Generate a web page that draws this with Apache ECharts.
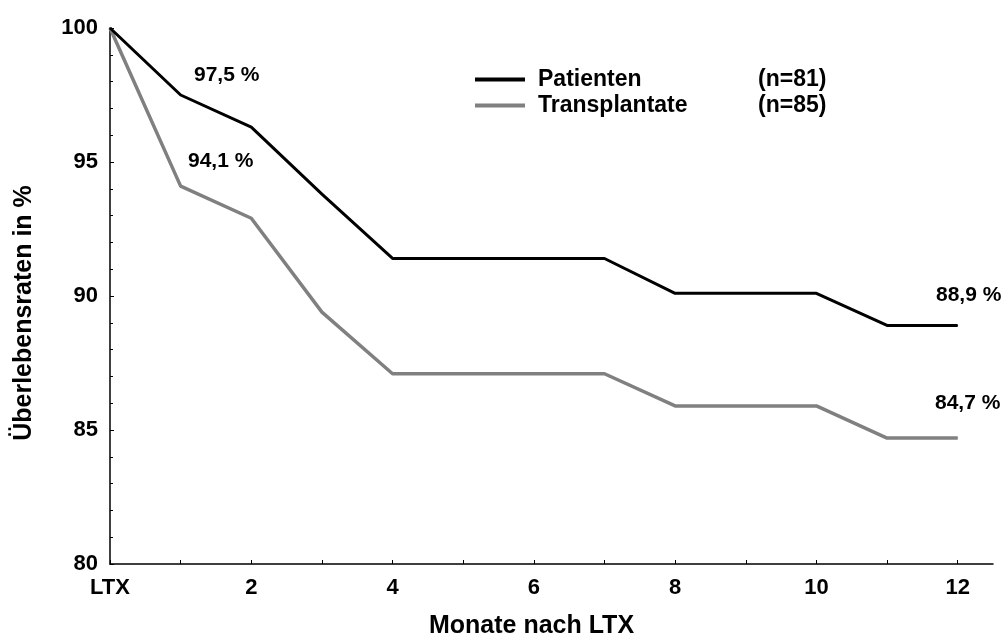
<!DOCTYPE html>
<html>
<head>
<meta charset="utf-8">
<script src="https://cdn.jsdelivr.net/npm/echarts@6/dist/echarts.min.js"></script>
<style>
  html, body { margin: 0; padding: 0; background: #fff; }
  #chart { width: 1005px; height: 644px; }
</style>
</head>
<body>
<div id="chart"></div>
<script>
// Monate nach LTX (0 = LTX)
const months = [0, 1, 2, 3, 4, 5, 6, 7, 8, 9, 10, 11, 12]
const patienten = [100, 97.5, 96.3, 93.8, 91.4, 91.4, 91.4, 91.4, 90.1, 90.1, 90.1, 88.9, 88.9]
const transplantate = [100, 94.1, 92.9, 89.4, 87.1, 87.1, 87.1, 87.1, 85.9, 85.9, 85.9, 84.7, 84.7]
const seriesNames = ['Patienten', 'Transplantate']
const seriesN = ['(n=81)', '(n=85)']
const xTicks = [0, 1, 2, 3, 4, 5, 6, 7, 8, 9, 10, 11, 12]
const xLabels = [0, 2, 4, 6, 8, 10, 12]
// Beschriftete Punkte: Index im Array
const patLabelIdx = [1, 12]
const trLabelIdx = [1, 12]

const FONT = "'Liberation Sans', Arial, sans-serif"

const fmt = v => v.toFixed(1).replace('.', ',') + ' %'

const buildData = (values, labelIdx, offsets) =>
  months.map((m, i) => {
    const item = { value: [m, values[i]] }
    const k = labelIdx.indexOf(i)
    if (k >= 0) {
      item.label = { show: true, offset: offsets[k] }
    }
    return item
  })

const chart = echarts.init(document.getElementById('chart'))

const option = {
  animation: false,
  textStyle: { fontFamily: FONT },
  grid: { left: 110, right: 12, top: 28, bottom: 76 },
  legend: {
    orient: 'vertical',
    left: 470,
    top: 63,
    icon: 'rect',
    itemWidth: 50,
    itemHeight: 4,
    itemGap: 3,
    data: seriesNames,
    formatter: name => '{a|' + name + '}{b|' + seriesN[seriesNames.indexOf(name)] + '}',
    textStyle: {
      padding: [0, 0, 0, 8],
      rich: {
        a: { width: 220, fontSize: 23, fontWeight: 'bold', color: '#000', fontFamily: FONT, lineHeight: 26 },
        b: { fontSize: 23, fontWeight: 'bold', color: '#000', fontFamily: FONT, lineHeight: 26 }
      }
    }
  },
  xAxis: {
    type: 'value',
    min: 0,
    max: 12.5,
    interval: 1,
    name: 'Monate nach LTX',
    nameLocation: 'middle',
    nameGap: 50,
    nameTextStyle: { fontSize: 25, fontWeight: 'bold', color: '#000', padding: [0, 40, 0, 0] },
    splitLine: { show: false },
    axisLine: { lineStyle: { color: '#000', width: 1.5 } },
    axisTick: { inside: true, length: 4, customValues: xTicks, lineStyle: { color: '#000' } },
    axisLabel: {
      customValues: xLabels,
      margin: 13,
      fontSize: 22,
      fontWeight: 'bold',
      color: '#000',
      formatter: v => (v === 0 ? 'LTX' : String(v))
    }
  },
  yAxis: {
    type: 'value',
    min: 80,
    max: 100,
    interval: 5,
    name: 'Überlebensraten in %',
    nameLocation: 'middle',
    nameGap: 73,
    nameTextStyle: { fontSize: 25, fontWeight: 'bold', color: '#000', padding: [0, 34, 0, 0] },
    splitLine: { show: false },
    axisLine: { show: true, lineStyle: { color: '#000', width: 1.5 } },
    axisTick: { show: true, inside: true, length: 4, lineStyle: { color: '#000' } },
    minorTick: { show: true, splitNumber: 5, length: 3, lineStyle: { color: '#000' } },
    axisLabel: { margin: 12, fontSize: 22, fontWeight: 'bold', color: '#000' }
  },
  series: [
    {
      name: 'Patienten',
      type: 'line',
      symbol: 'circle',
      symbolSize: 1,
      showSymbol: true,
      data: buildData(patienten, patLabelIdx, [[46, -20], [11, -30]]),
      lineStyle: { color: '#000', width: 3 },
      itemStyle: { color: '#000' },
      label: {
        show: false,
        position: 'inside',
        formatter: p => fmt(p.value[1]),
        fontSize: 21,
        fontWeight: 'bold',
        color: '#000'
      },
      z: 3
    },
    {
      name: 'Transplantate',
      type: 'line',
      symbol: 'circle',
      symbolSize: 1,
      showSymbol: true,
      data: buildData(transplantate, trLabelIdx, [[40, -25], [10, -35]]),
      lineStyle: { color: '#808080', width: 3.5 },
      itemStyle: { color: '#808080' },
      label: {
        show: false,
        position: 'inside',
        formatter: p => fmt(p.value[1]),
        fontSize: 21,
        fontWeight: 'bold',
        color: '#000'
      },
      z: 2
    }
  ]
}

chart.setOption(option)
window.addEventListener('resize', () => chart.resize())
</script>
</body>
</html>
